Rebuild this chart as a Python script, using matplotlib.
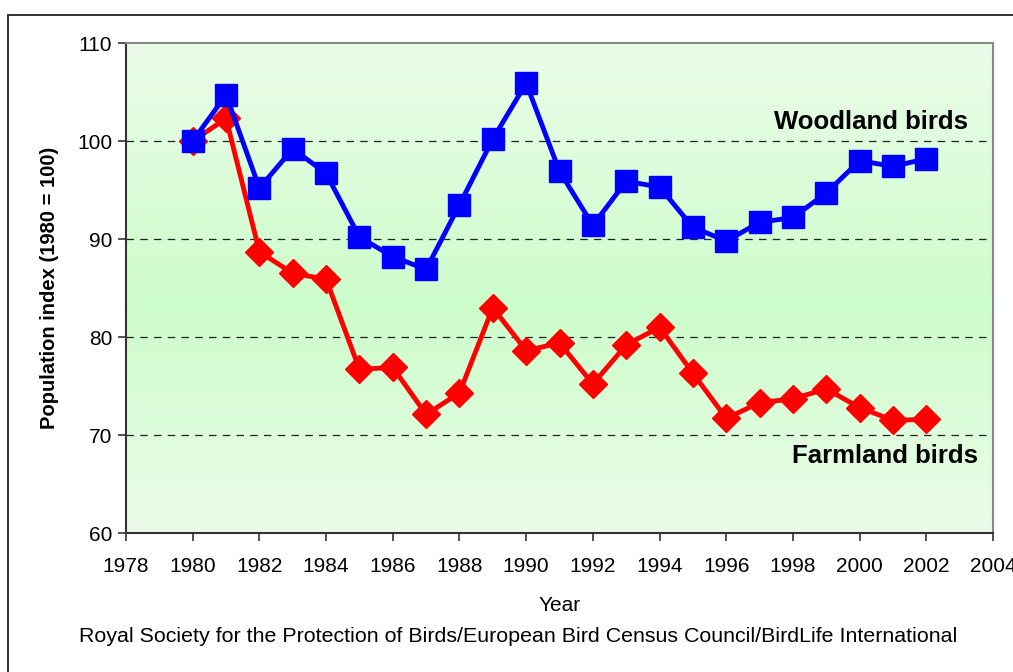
import numpy as np
import matplotlib.pyplot as plt
from matplotlib.colors import LinearSegmentedColormap
from matplotlib.patches import Rectangle

# ----Data------------
years = list(range(1980, 2003))
woodland = [100.0, 104.7, 95.2, 99.2, 96.7, 90.2, 88.2, 86.9, 93.5, 100.2,
            105.9, 96.9, 91.4, 95.9, 95.3, 91.2, 89.8, 91.7, 92.2, 94.7,
            98.0, 97.4, 98.2]
farmland = [100.0, 102.3, 88.7, 86.5, 85.9, 76.7, 76.9, 72.1, 74.3, 83.0,
            78.6, 79.4, 75.2, 79.2, 81.0, 76.3, 71.7, 73.3, 73.7, 74.7,
            72.8, 71.5, 71.6]
x_ticks = list(range(1978, 2005, 2))
y_ticks = [60, 70, 80, 90, 100, 110]
grid_levels = [70, 80, 90, 100]

plt.rcParams['font.family'] = ['Liberation Sans', 'DejaVu Sans']

fig = plt.figure(figsize=(10.13, 6.72), dpi=100)
ax = fig.add_axes([0.1244, 0.2068, 0.8559, 0.7292])

# Outer chart border (runs off the right and bottom edges)
fig.patches.append(Rectangle((8 / 1013, -0.1), 1.1, 1.1 - 15 / 672,
                             transform=fig.transFigure, fill=False,
                             edgecolor='#222222', linewidth=1.3))

# Green gradient background
cmap = LinearSegmentedColormap.from_list(
    'bg', [(0, '#ebfde9'), (0.46, '#cdfccb'), (1, '#ebfde9')])
grad = np.linspace(0, 1, 256).reshape(-1, 1)
ax.imshow(grad, extent=[1978, 2004, 60, 110], aspect='auto', cmap=cmap,
          origin='lower', zorder=0)

# Gridlines
for lvl in grid_levels:
    ax.axhline(lvl, color='#222222', linestyle=(0, (6, 5)), linewidth=0.9,
               zorder=1)

ax.plot(years, farmland, color='#ff0000', linewidth=3.5, marker='D',
        markersize=14, zorder=3)
ax.plot(years, woodland, color='#0000ff', linewidth=3.5, marker='s',
        markersize=15.5, zorder=4)

ax.set_xlim(1978, 2004)
ax.set_ylim(60, 110)
ax.set_xticks(x_ticks)
ax.set_yticks(y_ticks)
ax.tick_params(axis='both', direction='out', length=6, width=1.2,
               labelsize=15, color='#333333')
ax.tick_params(axis='x', pad=11)
ax.tick_params(axis='y', pad=4)

for side in ['left', 'bottom']:
    ax.spines[side].set_color('#333333')
    ax.spines[side].set_linewidth(1.5)
for side in ['top', 'right']:
    ax.spines[side].set_color('#888888')
    ax.spines[side].set_linewidth(1.5)

ax.set_ylabel('Population index (1980 = 100)', fontsize=14.5,
              fontweight='bold', labelpad=13)
ax.set_xlabel('Year', fontsize=15, labelpad=15)

ax.text(2003.25, 101.9, 'Woodland birds', fontsize=18.5, fontweight='bold',
        ha='right', va='center', zorder=5)
ax.text(2003.55, 67.9, 'Farmland birds', fontsize=18.5, fontweight='bold',
        ha='right', va='center', zorder=5)

fig.text(0.511, 1 - 637 / 672,
         'Royal Society for the Protection of Birds/European Bird Census '
         'Council/BirdLife International', fontsize=15.4, ha='center',
         va='center')

plt.savefig('out.png', dpi=100)
plt.close()
